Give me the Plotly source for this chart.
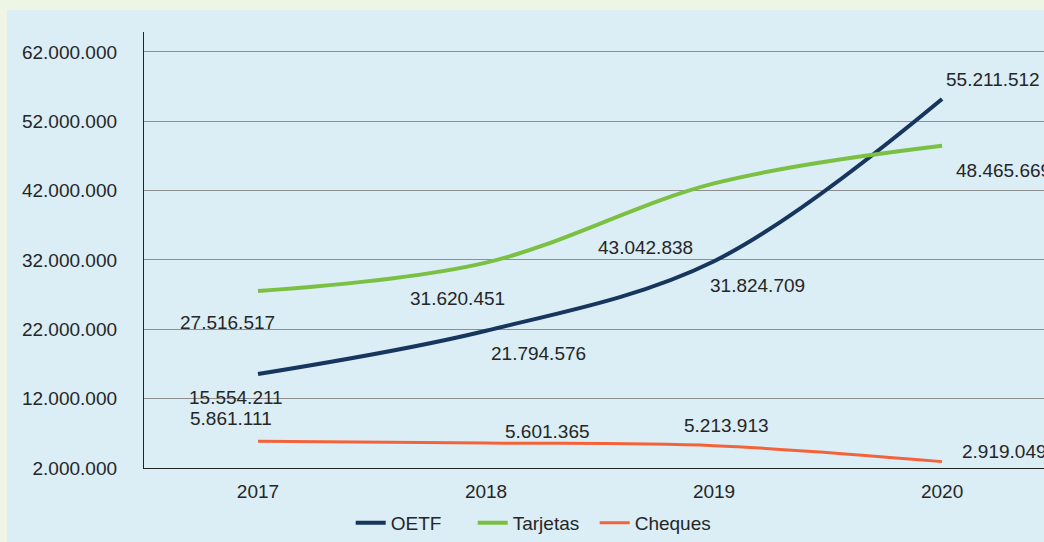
import plotly.graph_objects as go

years = ["2017", "2018", "2019", "2020"]
oetf = [15554211, 21794576, 31824709, 55211512]
tarjetas = [27516517, 31620451, 43042838, 48465669]
cheques = [5861111, 5601365, 5213913, 2919049]
series_names = ["OETF", "Tarjetas", "Cheques"]
y_ticks = [2000000, 12000000, 22000000, 32000000, 42000000, 52000000, 62000000]

colors = ["#17365d", "#7bc043", "#f4623a"]
widths = [4, 4, 3]

# label offsets in pixels (dx right, dy down) for each series/year
label_offsets = [
    [(-22, 23), (52, 23), (43, 24), (51, -20)],
    [(-31, 31), (-29, 36), (-69, 64), (61, 25)],
    [(-27, -23), (61, -12), (12, -20), (62, -10)],
]

FONT = "Liberation Sans, Arial, sans-serif"
TXT = "#262626"
FS = 19

fig = go.Figure()
all_series = [oetf, tarjetas, cheques]
for name, vals, c, w in zip(series_names, all_series, colors, widths):
    fig.add_trace(go.Scatter(
        x=years, y=vals, name=name, mode="lines",
        line=dict(color=c, width=w, shape="spline", smoothing=1.0),
    ))

annotations = []
for vals, offs in zip(all_series, label_offsets):
    for i, (v, (dx, dy)) in enumerate(zip(vals, offs)):
        annotations.append(dict(
            x=i, y=v, xref="x", yref="y", showarrow=False,
            text=f"{v:,}".replace(",", "."),
            xshift=dx, yshift=-dy,
            font=dict(family=FONT, size=FS, color=TXT),
        ))

fig.update_layout(
    width=1044, height=542,
    margin=dict(l=144, r=0, t=32, b=74),
    paper_bgcolor="#eef5e4",
    plot_bgcolor="#dbedf5",
    separators=",.",
    font=dict(family=FONT, size=FS, color=TXT),
    annotations=annotations,
    shapes=[dict(type="rect", xref="paper", yref="paper",
                 x0=-0.1522, x1=1.2, y0=-0.3, y1=1.0505,
                 fillcolor="#dbedf5", line=dict(width=0), layer="below")],
    showlegend=True,
    legend=dict(orientation="h", xref="paper", yref="paper",
                x=0.433, xanchor="center", y=-0.126, yanchor="middle",
                bgcolor="rgba(0,0,0,0)", font=dict(family=FONT, size=FS, color=TXT),
                entrywidth=77, entrywidthmode="pixels", tracegroupgap=0),
    xaxis=dict(type="category", range=[-0.5, 3.447], showgrid=False,
               showline=True, linecolor="#222222", linewidth=1.3,
               ticks="", ticklabelstandoff=6, zeroline=False),
    yaxis=dict(range=[2000000, 64880000], tickvals=y_ticks, tickformat=",d",
               showgrid=True, gridcolor="#8f8f8f", gridwidth=1,
               showline=True, linecolor="#222222", linewidth=1.3,
               ticks="", ticklabelstandoff=22, zeroline=False),
)

fig.write_html("out.html", config={"displayModeBar": False},
               post_script="document.body.style.margin='0';document.body.style.overflow='hidden';")
